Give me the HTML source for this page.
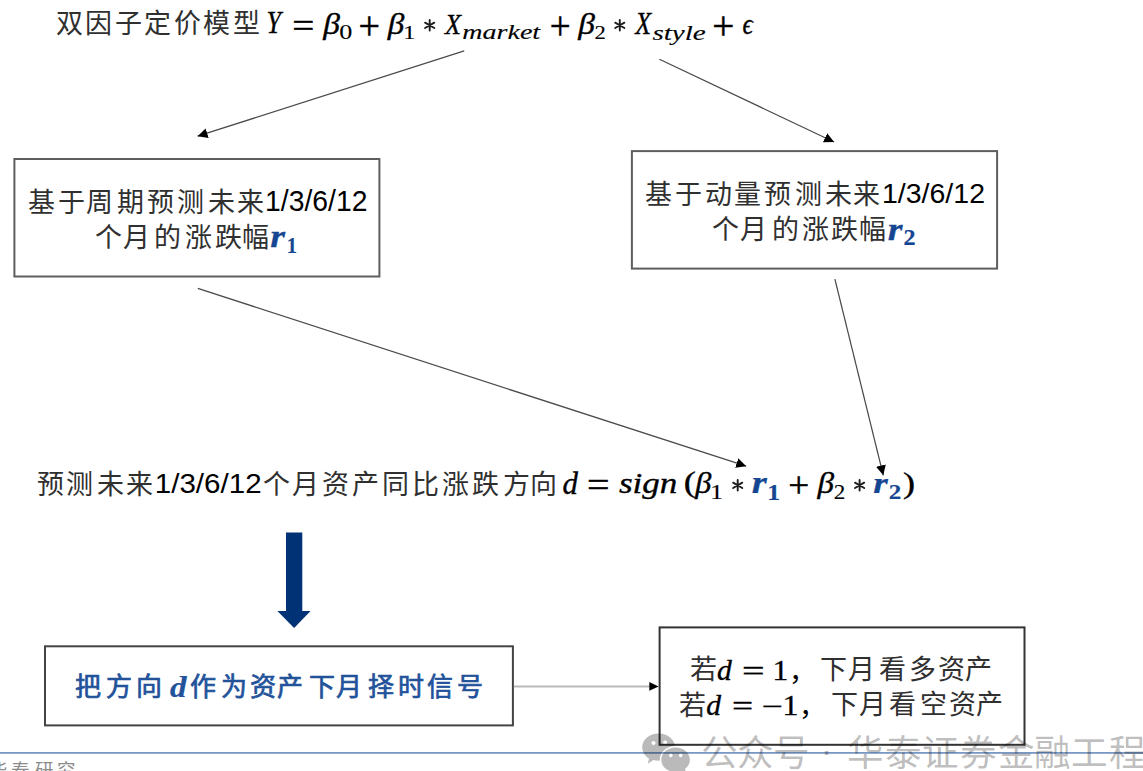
<!DOCTYPE html>
<html lang="zh-CN"><head><meta charset="utf-8"><title>双因子定价模型</title>
<style>html,body{margin:0;padding:0;background:#fff;width:1143px;height:771px;overflow:hidden}svg{display:block;}text{white-space:pre}</style></head>
<body>
<svg width="1143" height="771" viewBox="0 0 1143 771">
<rect width="1143" height="771" fill="#fff"/>
<g>

<defs>
<marker id="ah" viewBox="0 0 10 10" refX="10" refY="5" markerWidth="10" markerHeight="10" markerUnits="userSpaceOnUse" orient="auto">
<path d="M0,0 L10,5 L0,10 z" fill="#000"/></marker>
<mask id="bigm" maskUnits="userSpaceOnUse" x="600" y="700" width="120" height="80">
<rect x="600" y="700" width="120" height="80" fill="#fff"/>
<ellipse cx="675.6" cy="759.8" rx="15.9" ry="13.8" fill="#000"/>
</mask>
</defs>
<g fill="none" stroke-width="2">
<rect x="14.4" y="159" width="365" height="117.5" stroke="#5e5e5e"/>
<rect x="631.9" y="151.1" width="365.2" height="117.5" stroke="#5e5e5e"/>
<rect x="45" y="646.3" width="467.9" height="79.1" stroke="#444"/>
<rect x="659.6" y="627.4" width="364.9" height="117.4" stroke="#333"/>
</g>
<g stroke="#4a4a4a" stroke-width="1.25" fill="none" marker-end="url(#ah)">
<line x1="464.2" y1="50.9" x2="197.6" y2="136.2"/>
<line x1="659.4" y1="59.2" x2="834.1" y2="142.0"/>
<line x1="197.8" y1="288.4" x2="746.2" y2="466.2"/>
<line x1="834.9" y1="279.2" x2="883.3" y2="475.3"/>
</g>
<line x1="513.9" y1="686.4" x2="650" y2="686.4" stroke="#bbb" stroke-width="2"/>
<path d="M649.3,682 L658.6,686.4 L649.3,690.8 z" fill="#000"/>
<path d="M286,532.6 H302.3 V611 H310.6 L294.1,628 L277.4,611 H286 z" fill="#003275"/>
<rect x="0" y="752" width="1143" height="1.8" fill="rgb(122,152,196)"/>

<g>
<g transform="translate(266.44,33.49) scale(0.847,1)"><text x="0.00" y="0.00" font-family="'Liberation Serif', serif" font-size="30.61" font-style="italic" fill="#000" stroke="#000" stroke-width="0.37">Y</text></g>
<g transform="translate(292.34,37.32) scale(1.138,1)"><text x="0.00" y="0.00" font-family="'Liberation Serif', serif" font-size="34.40" fill="#000" stroke="#000" stroke-width="0.41">=</text></g>
<g transform="translate(323.27,33.85) scale(1.162,1)"><text x="0.00" y="0.00" font-family="'Liberation Serif', serif" font-size="28.79" font-style="italic" fill="#000" stroke="#000" stroke-width="0.35">β</text></g>
<g transform="translate(339.22,39.48) scale(1.252,1)"><text x="0.00" y="0.00" font-family="'Liberation Serif', serif" font-size="20.88" fill="#000" stroke="#000" stroke-width="0.12">0</text></g>
<g transform="translate(358.50,38.61) scale(0.973,1)"><text x="0.00" y="0.00" font-family="'Liberation Serif', serif" font-size="39.15" fill="#000" stroke="#000" stroke-width="0.47">+</text></g>
<g transform="translate(387.87,33.85) scale(1.156,1)"><text x="0.00" y="0.00" font-family="'Liberation Serif', serif" font-size="28.79" font-style="italic" fill="#000" stroke="#000" stroke-width="0.35">β</text></g>
<g transform="translate(403.00,39.40) scale(1.260,1)"><text x="0.00" y="0.00" font-family="'Liberation Serif', serif" font-size="19.85" fill="#000" stroke="#000" stroke-width="0.12">1</text></g>
<g transform="translate(444.99,33.60) scale(0.864,1)"><text x="0.00" y="0.00" font-family="'Liberation Serif', serif" font-size="30.30" font-style="italic" fill="#000" stroke="#000" stroke-width="0.36">X</text></g>
<g transform="translate(462.26,39.40) scale(1.393,1)"><text x="0.00" y="0.00" font-family="'Liberation Serif', serif" font-size="20.14" font-style="italic" fill="#000" stroke="#000" stroke-width="0.12">market</text></g>
<g transform="translate(549.65,38.61) scale(0.946,1)"><text x="0.00" y="0.00" font-family="'Liberation Serif', serif" font-size="39.15" fill="#000" stroke="#000" stroke-width="0.47">+</text></g>
<g transform="translate(578.17,33.85) scale(1.162,1)"><text x="0.00" y="0.00" font-family="'Liberation Serif', serif" font-size="28.79" font-style="italic" fill="#000" stroke="#000" stroke-width="0.35">β</text></g>
<g transform="translate(594.59,39.20) scale(1.160,1)"><text x="0.00" y="0.00" font-family="'Liberation Serif', serif" font-size="19.55" fill="#000" stroke="#000" stroke-width="0.12">2</text></g>
<g transform="translate(635.28,33.69) scale(0.838,1)"><text x="0.00" y="0.00" font-family="'Liberation Serif', serif" font-size="31.06" font-style="italic" fill="#000" stroke="#000" stroke-width="0.37">X</text></g>
<g transform="translate(652.41,39.95) scale(1.437,1)"><text x="0.00" y="0.00" font-family="'Liberation Serif', serif" font-size="20.22" font-style="italic" fill="#000" stroke="#000" stroke-width="0.12">style</text></g>
<text x="712.25" y="38.61" font-family="'Liberation Serif', serif" font-size="39.15" fill="#000" stroke="#000" stroke-width="0.47">+</text>
<g transform="translate(742.43,33.70) scale(0.862,1)"><text x="0.00" y="0.00" font-family="'Liberation Serif', serif" font-size="29.58" font-style="italic" fill="#000" stroke="#000" stroke-width="0.35">ϵ</text></g>
<g transform="translate(265.12,211.21) scale(0.989,1)"><text x="0.00" y="0.00" font-family="'Liberation Sans', sans-serif" font-size="28.65" fill="#000">1/3/6/12</text></g>
<g transform="translate(270.14,246.90) scale(1.212,1)"><text x="0.00" y="0.00" font-family="'Liberation Serif', serif" font-size="31.28" font-style="italic" font-weight="bold" fill="#154692" stroke="#154692" stroke-width="0.25">r</text></g>
<g transform="translate(286.76,253.40) scale(0.904,1)"><text x="0.00" y="0.00" font-family="'Liberation Serif', serif" font-size="22.73" font-weight="bold" fill="#154692" stroke="#154692" stroke-width="0.18">1</text></g>
<text x="881.99" y="203.31" font-family="'Liberation Sans', sans-serif" font-size="28.51" fill="#000">1/3/6/12</text>
<g transform="translate(887.74,239.70) scale(1.164,1)"><text x="0.00" y="0.00" font-family="'Liberation Serif', serif" font-size="32.55" font-style="italic" font-weight="bold" fill="#154692" stroke="#154692" stroke-width="0.26">r</text></g>
<g transform="translate(903.44,244.68) scale(1.074,1)"><text x="0.00" y="0.00" font-family="'Liberation Serif', serif" font-size="22.39" font-weight="bold" fill="#154692" stroke="#154692" stroke-width="0.18">2</text></g>
<g transform="translate(154.73,493.32) scale(1.043,1)"><text x="0.00" y="0.00" font-family="'Liberation Sans', sans-serif" font-size="28.38" fill="#000">1/3/6/12</text></g>
<text x="562.58" y="493.69" font-family="'Liberation Serif', serif" font-size="30.86" font-style="italic" fill="#000" stroke="#000" stroke-width="0.37">d</text>
<g transform="translate(587.10,497.14) scale(1.099,1)"><text x="0.00" y="0.00" font-family="'Liberation Serif', serif" font-size="36.40" fill="#000" stroke="#000" stroke-width="0.44">=</text></g>
<g transform="translate(618.95,492.92) scale(1.192,1)"><text x="0.00" y="0.00" font-family="'Liberation Serif', serif" font-size="29.43" font-style="italic" fill="#000" stroke="#000" stroke-width="0.35">sign</text></g>
<g transform="translate(683.74,492.46) scale(1.250,1)"><text x="0.00" y="0.00" font-family="'Liberation Serif', serif" font-size="29.22" fill="#000" stroke="#000" stroke-width="0.35">(</text></g>
<g transform="translate(695.35,493.05) scale(1.122,1)"><text x="0.00" y="0.00" font-family="'Liberation Serif', serif" font-size="28.79" font-style="italic" fill="#000" stroke="#000" stroke-width="0.35">β</text></g>
<g transform="translate(709.89,499.10) scale(1.235,1)"><text x="0.00" y="0.00" font-family="'Liberation Serif', serif" font-size="21.36" fill="#000" stroke="#000" stroke-width="0.12">1</text></g>
<g transform="translate(751.63,493.30) scale(1.237,1)"><text x="0.00" y="0.00" font-family="'Liberation Serif', serif" font-size="31.28" font-style="italic" font-weight="bold" fill="#154692" stroke="#154692" stroke-width="0.25">r</text></g>
<g transform="translate(767.15,499.60) scale(1.161,1)"><text x="0.00" y="0.00" font-family="'Liberation Serif', serif" font-size="22.12" font-weight="bold" fill="#154692" stroke="#154692" stroke-width="0.18">1</text></g>
<g transform="translate(788.14,497.03) scale(1.054,1)"><text x="0.00" y="0.00" font-family="'Liberation Serif', serif" font-size="35.32" fill="#000" stroke="#000" stroke-width="0.42">+</text></g>
<g transform="translate(817.47,493.44) scale(1.134,1)"><text x="0.00" y="0.00" font-family="'Liberation Serif', serif" font-size="29.34" font-style="italic" fill="#000" stroke="#000" stroke-width="0.35">β</text></g>
<g transform="translate(833.67,499.39) scale(1.101,1)"><text x="0.00" y="0.00" font-family="'Liberation Serif', serif" font-size="21.04" fill="#000" stroke="#000" stroke-width="0.12">2</text></g>
<g transform="translate(873.25,493.30) scale(1.246,1)"><text x="0.00" y="0.00" font-family="'Liberation Serif', serif" font-size="30.00" font-style="italic" font-weight="bold" fill="#154692" stroke="#154692" stroke-width="0.24">r</text></g>
<g transform="translate(888.80,499.39) scale(1.188,1)"><text x="0.00" y="0.00" font-family="'Liberation Serif', serif" font-size="21.04" font-weight="bold" fill="#154692" stroke="#154692" stroke-width="0.17">2</text></g>
<g transform="translate(902.92,492.85) scale(1.214,1)"><text x="0.00" y="0.00" font-family="'Liberation Serif', serif" font-size="29.78" fill="#000" stroke="#000" stroke-width="0.36">)</text></g>
<g transform="translate(170.07,696.91) scale(1.138,1)"><text x="0.00" y="0.00" font-family="'Liberation Serif', serif" font-size="29.00" font-style="italic" font-weight="bold" fill="#22529a" stroke="#22529a" stroke-width="0.23">d</text></g>
<g transform="translate(717.11,679.80) scale(0.986,1)"><text x="0.00" y="0.00" font-family="'Liberation Serif', serif" font-size="30.00" font-style="italic" fill="#000" stroke="#000" stroke-width="0.36">d</text></g>
<g transform="translate(742.10,680.60) scale(1.333,1)"><text x="0.00" y="0.00" font-family="'Liberation Serif', serif" font-size="30.00" fill="#000" stroke="#000" stroke-width="0.36">=</text></g>
<g transform="translate(772.39,680.10) scale(1.041,1)"><text x="0.00" y="0.00" font-family="'Liberation Serif', serif" font-size="30.15" fill="#000" stroke="#000" stroke-width="0.36">1</text></g>
<g transform="translate(706.31,715.10) scale(0.986,1)"><text x="0.00" y="0.00" font-family="'Liberation Serif', serif" font-size="30.00" font-style="italic" fill="#000" stroke="#000" stroke-width="0.36">d</text></g>
<g transform="translate(732.03,715.80) scale(1.248,1)"><text x="0.00" y="0.00" font-family="'Liberation Serif', serif" font-size="30.00" fill="#000" stroke="#000" stroke-width="0.36">=</text></g>
<g transform="translate(761.63,715.72) scale(1.291,1)"><text x="0.00" y="0.00" font-family="'Liberation Serif', serif" font-size="29.00" fill="#000" stroke="#000" stroke-width="0.35">−</text></g>
<g transform="translate(782.57,715.40) scale(1.050,1)"><text x="0.00" y="0.00" font-family="'Liberation Serif', serif" font-size="30.15" fill="#000" stroke="#000" stroke-width="0.36">1</text></g>
<text x="788.59" y="681.00" font-family="'Liberation Sans', sans-serif" font-size="27.00" fill="#000">，</text>
<text x="799.24" y="715.80" font-family="'Liberation Sans', sans-serif" font-size="27.00" fill="#000">，</text>
<text x="69.30" y="33.19" font-family="'Liberation Sans', sans-serif" font-size="27.00" fill="#303030" text-anchor="middle">双</text>
<text x="98.80" y="33.19" font-family="'Liberation Sans', sans-serif" font-size="27.00" fill="#303030" text-anchor="middle">因</text>
<text x="128.30" y="33.19" font-family="'Liberation Sans', sans-serif" font-size="27.00" fill="#303030" text-anchor="middle">子</text>
<text x="157.80" y="33.19" font-family="'Liberation Sans', sans-serif" font-size="27.00" fill="#303030" text-anchor="middle">定</text>
<text x="187.30" y="33.19" font-family="'Liberation Sans', sans-serif" font-size="27.00" fill="#303030" text-anchor="middle">价</text>
<text x="216.80" y="33.19" font-family="'Liberation Sans', sans-serif" font-size="27.00" fill="#303030" text-anchor="middle">模</text>
<text x="246.30" y="33.19" font-family="'Liberation Sans', sans-serif" font-size="27.00" fill="#303030" text-anchor="middle">型</text>
<text x="41.30" y="211.97" font-family="'Liberation Sans', sans-serif" font-size="27.00" fill="#303030" text-anchor="middle">基</text>
<text x="71.20" y="211.97" font-family="'Liberation Sans', sans-serif" font-size="27.00" fill="#303030" text-anchor="middle">于</text>
<text x="99.90" y="211.97" font-family="'Liberation Sans', sans-serif" font-size="27.00" fill="#303030" text-anchor="middle">周</text>
<text x="130.20" y="211.97" font-family="'Liberation Sans', sans-serif" font-size="27.00" fill="#303030" text-anchor="middle">期</text>
<text x="160.20" y="211.97" font-family="'Liberation Sans', sans-serif" font-size="27.00" fill="#303030" text-anchor="middle">预</text>
<text x="190.50" y="211.97" font-family="'Liberation Sans', sans-serif" font-size="27.00" fill="#303030" text-anchor="middle">测</text>
<text x="221.10" y="211.97" font-family="'Liberation Sans', sans-serif" font-size="27.00" fill="#303030" text-anchor="middle">未</text>
<text x="250.00" y="211.97" font-family="'Liberation Sans', sans-serif" font-size="27.00" fill="#303030" text-anchor="middle">来</text>
<text x="108.20" y="247.36" font-family="'Liberation Sans', sans-serif" font-size="27.00" fill="#303030" text-anchor="middle">个</text>
<text x="136.50" y="247.36" font-family="'Liberation Sans', sans-serif" font-size="27.00" fill="#303030" text-anchor="middle">月</text>
<text x="167.20" y="247.36" font-family="'Liberation Sans', sans-serif" font-size="27.00" fill="#303030" text-anchor="middle">的</text>
<text x="198.80" y="247.36" font-family="'Liberation Sans', sans-serif" font-size="27.00" fill="#303030" text-anchor="middle">涨</text>
<text x="228.20" y="247.36" font-family="'Liberation Sans', sans-serif" font-size="27.00" fill="#303030" text-anchor="middle">跌</text>
<text x="255.70" y="247.36" font-family="'Liberation Sans', sans-serif" font-size="27.00" fill="#303030" text-anchor="middle">幅</text>
<text x="658.90" y="204.26" font-family="'Liberation Sans', sans-serif" font-size="27.00" fill="#303030" text-anchor="middle">基</text>
<text x="688.80" y="204.26" font-family="'Liberation Sans', sans-serif" font-size="27.00" fill="#303030" text-anchor="middle">于</text>
<text x="718.00" y="204.26" font-family="'Liberation Sans', sans-serif" font-size="27.00" fill="#303030" text-anchor="middle">动</text>
<text x="747.90" y="204.26" font-family="'Liberation Sans', sans-serif" font-size="27.00" fill="#303030" text-anchor="middle">量</text>
<text x="777.80" y="204.26" font-family="'Liberation Sans', sans-serif" font-size="27.00" fill="#303030" text-anchor="middle">预</text>
<text x="808.00" y="204.26" font-family="'Liberation Sans', sans-serif" font-size="27.00" fill="#303030" text-anchor="middle">测</text>
<text x="838.50" y="204.26" font-family="'Liberation Sans', sans-serif" font-size="27.00" fill="#303030" text-anchor="middle">未</text>
<text x="866.50" y="204.26" font-family="'Liberation Sans', sans-serif" font-size="27.00" fill="#303030" text-anchor="middle">来</text>
<text x="725.80" y="239.36" font-family="'Liberation Sans', sans-serif" font-size="27.00" fill="#303030" text-anchor="middle">个</text>
<text x="753.80" y="239.36" font-family="'Liberation Sans', sans-serif" font-size="27.00" fill="#303030" text-anchor="middle">月</text>
<text x="785.20" y="239.36" font-family="'Liberation Sans', sans-serif" font-size="27.00" fill="#303030" text-anchor="middle">的</text>
<text x="815.80" y="239.36" font-family="'Liberation Sans', sans-serif" font-size="27.00" fill="#303030" text-anchor="middle">涨</text>
<text x="844.20" y="239.36" font-family="'Liberation Sans', sans-serif" font-size="27.00" fill="#303030" text-anchor="middle">跌</text>
<text x="872.20" y="239.36" font-family="'Liberation Sans', sans-serif" font-size="27.00" fill="#303030" text-anchor="middle">幅</text>
<text x="50.80" y="493.72" font-family="'Liberation Sans', sans-serif" font-size="27.00" fill="#303030" text-anchor="middle">预</text>
<text x="79.80" y="493.72" font-family="'Liberation Sans', sans-serif" font-size="27.00" fill="#303030" text-anchor="middle">测</text>
<text x="110.40" y="493.72" font-family="'Liberation Sans', sans-serif" font-size="27.00" fill="#303030" text-anchor="middle">未</text>
<text x="139.40" y="493.72" font-family="'Liberation Sans', sans-serif" font-size="27.00" fill="#303030" text-anchor="middle">来</text>
<text x="276.60" y="494.26" font-family="'Liberation Sans', sans-serif" font-size="27.00" fill="#303030" text-anchor="middle">个</text>
<text x="305.50" y="494.26" font-family="'Liberation Sans', sans-serif" font-size="27.00" fill="#303030" text-anchor="middle">月</text>
<text x="335.00" y="494.26" font-family="'Liberation Sans', sans-serif" font-size="27.00" fill="#303030" text-anchor="middle">资</text>
<text x="365.30" y="494.26" font-family="'Liberation Sans', sans-serif" font-size="27.00" fill="#303030" text-anchor="middle">产</text>
<text x="395.40" y="494.26" font-family="'Liberation Sans', sans-serif" font-size="27.00" fill="#303030" text-anchor="middle">同</text>
<text x="425.60" y="494.26" font-family="'Liberation Sans', sans-serif" font-size="27.00" fill="#303030" text-anchor="middle">比</text>
<text x="455.90" y="494.26" font-family="'Liberation Sans', sans-serif" font-size="27.00" fill="#303030" text-anchor="middle">涨</text>
<text x="485.30" y="494.26" font-family="'Liberation Sans', sans-serif" font-size="27.00" fill="#303030" text-anchor="middle">跌</text>
<text x="516.20" y="494.26" font-family="'Liberation Sans', sans-serif" font-size="27.00" fill="#303030" text-anchor="middle">方</text>
<text x="543.00" y="494.26" font-family="'Liberation Sans', sans-serif" font-size="27.00" fill="#303030" text-anchor="middle">向</text>
<text x="87.70" y="696.11" font-family="'Liberation Sans', sans-serif" font-size="26.00" fill="#22529a" text-anchor="middle" stroke="#22529a" stroke-width="0.7">把</text>
<text x="118.90" y="696.11" font-family="'Liberation Sans', sans-serif" font-size="26.00" fill="#22529a" text-anchor="middle" stroke="#22529a" stroke-width="0.7">方</text>
<text x="148.60" y="696.11" font-family="'Liberation Sans', sans-serif" font-size="26.00" fill="#22529a" text-anchor="middle" stroke="#22529a" stroke-width="0.7">向</text>
<text x="203.40" y="695.85" font-family="'Liberation Sans', sans-serif" font-size="26.00" fill="#22529a" text-anchor="middle" stroke="#22529a" stroke-width="0.7">作</text>
<text x="234.00" y="695.85" font-family="'Liberation Sans', sans-serif" font-size="26.00" fill="#22529a" text-anchor="middle" stroke="#22529a" stroke-width="0.7">为</text>
<text x="263.20" y="695.85" font-family="'Liberation Sans', sans-serif" font-size="26.00" fill="#22529a" text-anchor="middle" stroke="#22529a" stroke-width="0.7">资</text>
<text x="290.10" y="695.85" font-family="'Liberation Sans', sans-serif" font-size="26.00" fill="#22529a" text-anchor="middle" stroke="#22529a" stroke-width="0.7">产</text>
<text x="322.30" y="695.85" font-family="'Liberation Sans', sans-serif" font-size="26.00" fill="#22529a" text-anchor="middle" stroke="#22529a" stroke-width="0.7">下</text>
<text x="349.40" y="695.85" font-family="'Liberation Sans', sans-serif" font-size="26.00" fill="#22529a" text-anchor="middle" stroke="#22529a" stroke-width="0.7">月</text>
<text x="380.70" y="695.85" font-family="'Liberation Sans', sans-serif" font-size="26.00" fill="#22529a" text-anchor="middle" stroke="#22529a" stroke-width="0.7">择</text>
<text x="410.90" y="695.85" font-family="'Liberation Sans', sans-serif" font-size="26.00" fill="#22529a" text-anchor="middle" stroke="#22529a" stroke-width="0.7">时</text>
<text x="440.00" y="695.85" font-family="'Liberation Sans', sans-serif" font-size="26.00" fill="#22529a" text-anchor="middle" stroke="#22529a" stroke-width="0.7">信</text>
<text x="469.70" y="695.85" font-family="'Liberation Sans', sans-serif" font-size="26.00" fill="#22529a" text-anchor="middle" stroke="#22529a" stroke-width="0.7">号</text>
<text x="703.10" y="679.26" font-family="'Liberation Sans', sans-serif" font-size="27.00" fill="#303030" text-anchor="middle">若</text>
<text x="833.60" y="679.08" font-family="'Liberation Sans', sans-serif" font-size="27.00" fill="#303030" text-anchor="middle">下</text>
<text x="861.20" y="679.08" font-family="'Liberation Sans', sans-serif" font-size="27.00" fill="#303030" text-anchor="middle">月</text>
<text x="892.30" y="679.08" font-family="'Liberation Sans', sans-serif" font-size="27.00" fill="#303030" text-anchor="middle">看</text>
<text x="922.50" y="679.08" font-family="'Liberation Sans', sans-serif" font-size="27.00" fill="#303030" text-anchor="middle">多</text>
<text x="951.80" y="679.08" font-family="'Liberation Sans', sans-serif" font-size="27.00" fill="#303030" text-anchor="middle">资</text>
<text x="978.90" y="679.08" font-family="'Liberation Sans', sans-serif" font-size="27.00" fill="#303030" text-anchor="middle">产</text>
<text x="692.80" y="714.76" font-family="'Liberation Sans', sans-serif" font-size="27.00" fill="#303030" text-anchor="middle">若</text>
<text x="844.50" y="713.68" font-family="'Liberation Sans', sans-serif" font-size="27.00" fill="#303030" text-anchor="middle">下</text>
<text x="872.10" y="713.68" font-family="'Liberation Sans', sans-serif" font-size="27.00" fill="#303030" text-anchor="middle">月</text>
<text x="902.80" y="713.68" font-family="'Liberation Sans', sans-serif" font-size="27.00" fill="#303030" text-anchor="middle">看</text>
<text x="933.40" y="713.68" font-family="'Liberation Sans', sans-serif" font-size="27.00" fill="#303030" text-anchor="middle">空</text>
<text x="962.30" y="713.68" font-family="'Liberation Sans', sans-serif" font-size="27.00" fill="#303030" text-anchor="middle">资</text>
<text x="989.40" y="713.68" font-family="'Liberation Sans', sans-serif" font-size="27.00" fill="#303030" text-anchor="middle">产</text>
</g>
<path d="M429.70,30.60L429.70,20.00M425.11,27.95L434.29,22.65M425.11,22.65L434.29,27.95" stroke="#1c1c1c" stroke-width="1.9" stroke-linecap="round" fill="none"/><path d="M619.80,30.60L619.80,20.00M615.21,27.95L624.39,22.65M615.21,22.65L624.39,27.95" stroke="#1c1c1c" stroke-width="1.9" stroke-linecap="round" fill="none"/><path d="M737.70,490.60L737.70,480.00M733.11,487.95L742.29,482.65M733.11,482.65L742.29,487.95" stroke="#1c1c1c" stroke-width="1.9" stroke-linecap="round" fill="none"/><path d="M859.60,490.60L859.60,480.00M855.01,487.95L864.19,482.65M855.01,482.65L864.19,487.95" stroke="#1c1c1c" stroke-width="1.9" stroke-linecap="round" fill="none"/>
<text x="-1.50" y="777.33" font-family="'Liberation Sans', sans-serif" font-size="18.50" fill="#8c8c8c" text-anchor="middle">华</text><text x="20.00" y="777.33" font-family="'Liberation Sans', sans-serif" font-size="18.50" fill="#8c8c8c" text-anchor="middle">泰</text><text x="44.50" y="777.33" font-family="'Liberation Sans', sans-serif" font-size="18.50" fill="#8c8c8c" text-anchor="middle">研</text><text x="66.00" y="777.33" font-family="'Liberation Sans', sans-serif" font-size="18.50" fill="#8c8c8c" text-anchor="middle">究</text>
<g fill="#000" fill-opacity="0.27">
<text x="719.20" y="766.29" font-family="'Liberation Sans', sans-serif" font-size="36.50" fill="#000" text-anchor="middle">公</text>
<text x="755.20" y="766.29" font-family="'Liberation Sans', sans-serif" font-size="36.50" fill="#000" text-anchor="middle">众</text>
<text x="790.70" y="766.29" font-family="'Liberation Sans', sans-serif" font-size="36.50" fill="#000" text-anchor="middle">号</text>
<text x="864.50" y="766.47" font-family="'Liberation Sans', sans-serif" font-size="36.50" fill="#000" text-anchor="middle">华</text>
<text x="902.50" y="766.47" font-family="'Liberation Sans', sans-serif" font-size="36.50" fill="#000" text-anchor="middle">泰</text>
<text x="940.40" y="766.47" font-family="'Liberation Sans', sans-serif" font-size="36.50" fill="#000" text-anchor="middle">证</text>
<text x="978.40" y="766.47" font-family="'Liberation Sans', sans-serif" font-size="36.50" fill="#000" text-anchor="middle">券</text>
<text x="1015.80" y="766.47" font-family="'Liberation Sans', sans-serif" font-size="36.50" fill="#000" text-anchor="middle">金</text>
<text x="1052.00" y="766.47" font-family="'Liberation Sans', sans-serif" font-size="36.50" fill="#000" text-anchor="middle">融</text>
<text x="1089.40" y="766.47" font-family="'Liberation Sans', sans-serif" font-size="36.50" fill="#000" text-anchor="middle">工</text>
<text x="1126.50" y="766.47" font-family="'Liberation Sans', sans-serif" font-size="36.50" fill="#000" text-anchor="middle">程</text>
<text x="820.39" y="762.64" font-family="'Liberation Sans', sans-serif" font-size="36.50" fill="#000">·</text>
</g>

<g fill="#000" fill-opacity="0.27">
<path mask="url(#bigm)" fill-rule="evenodd" d="M658.6,733.6 C667.6,733.6 675,739.7 675,747.2 C675,754.7 667.6,760.8 658.6,760.8 C656.8,760.8 655,760.5 653.4,760 L647.8,763.8 L649.0,758.4 C644.8,755.9 642.2,751.7 642.2,747.2 C642.2,739.7 649.6,733.6 658.6,733.6 z M653.5,740.9 a2,2 0 1,0 0.01,0 z M665.1,740.5 a2,2 0 1,0 0.01,0 z"/>
<path fill-rule="evenodd" d="M675.6,747.6 C683.5,747.6 689.9,753 689.9,759.8 C689.9,763.5 688,766.8 685,769 L686.2,773.5 L681.6,771 C679.7,771.6 677.7,772 675.6,772 C667.7,772 661.3,766.6 661.3,759.8 C661.3,753 667.7,747.6 675.6,747.6 z M670.8,753.6 a1.8,1.8 0 1,0 0.01,0 z M680.7,753.6 a1.8,1.8 0 1,0 0.01,0 z"/>
</g>

</g>
</svg>
</body></html>
